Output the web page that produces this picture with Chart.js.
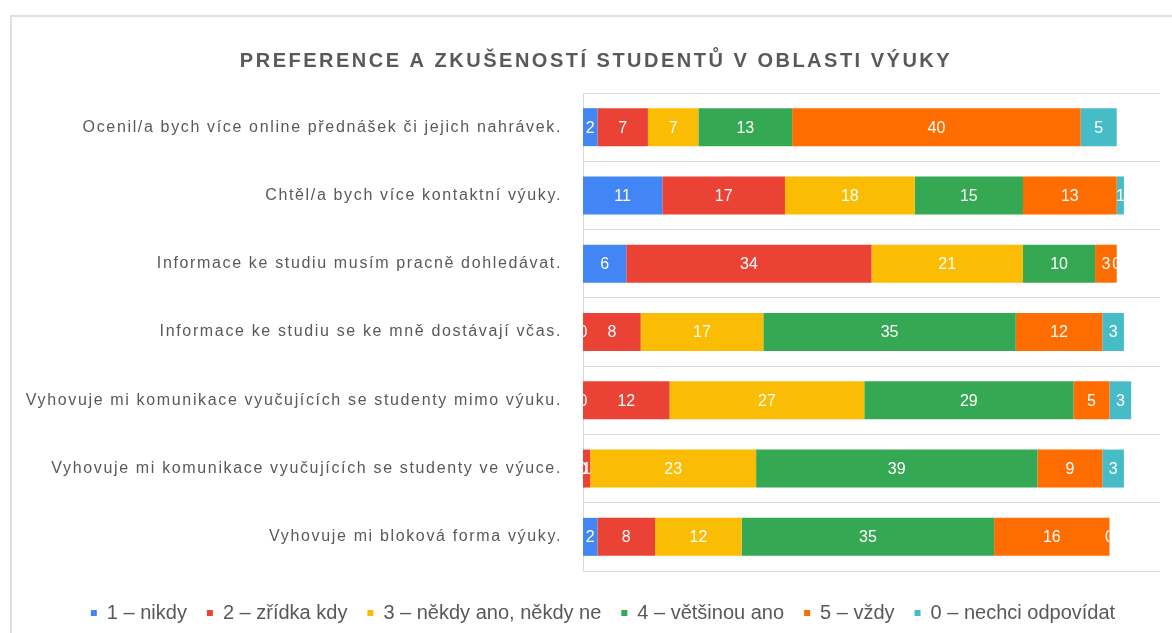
<!DOCTYPE html>
<html>
<head>
<meta charset="utf-8">
<script src="https://cdn.jsdelivr.net/npm/chart.js@4/dist/chart.umd.min.js"></script>
<style>
  html, body { margin: 0; padding: 0; background: #fff; width: 1172px; height: 633px; overflow: hidden; }
  #frame { position: absolute; left: 10px; top: 15px; width: 1200px; height: 700px; border-left: 2px solid #e0e0e0; border-top: 2px solid #e0e0e0; }
  #wrap { position: absolute; left: 10px; top: 15px; width: 1172px; height: 640px; }
</style>
</head>
<body>
<div id="frame"></div>
<div id="wrap"><canvas id="barchart"></canvas></div>
<script>
var chartTitle = "PREFERENCE A ZKUŠENOSTÍ STUDENTŮ V OBLASTI VÝUKY";

var categories = [
  "Ocenil/a bych více online přednášek či jejich nahrávek.",
  "Chtěl/a bych více kontaktní výuky.",
  "Informace ke studiu musím pracně dohledávat.",
  "Informace ke studiu se ke mně dostávají včas.",
  "Vyhovuje mi komunikace vyučujících se studenty mimo výuku.",
  "Vyhovuje mi komunikace vyučujících se studenty ve výuce.",
  "Vyhovuje mi bloková forma výuky."
];

var seriesNames = ["1 – nikdy", "2 – zřídka kdy", "3 – někdy ano, někdy ne", "4 – většinou ano", "5 – vždy", "0 – nechci odpovídat"];

var nikdy    = [2, 11, 6, 0, 0, 0, 2];
var zridka   = [7, 17, 34, 8, 12, 1, 8];
var nekdy    = [7, 18, 21, 17, 27, 23, 12];
var vetsinou = [13, 15, 10, 35, 29, 39, 35];
var vzdy     = [40, 13, 3, 12, 5, 9, 16];
var nechci   = [5, 1, 0, 3, 3, 3, 0];

var colors = ["#4285F4", "#EA4335", "#FBBC04", "#34A853", "#FF6D01", "#46BDC6"];

var FONT = '"Liberation Sans", Arial, sans-serif';
Chart.defaults.font.family = FONT;

// wrap a draw method: letter spacing and a small horizontal shift
function tweak(obj, fn, px, dx) {
  if (!obj || obj["_tw_" + fn]) return;
  var orig = obj[fn];
  obj[fn] = function () {
    var ctx = this.ctx;
    ctx.save();
    ctx.letterSpacing = px;
    ctx.translate(dx, 0);
    orig.apply(this, arguments);
    ctx.restore();
  };
  obj["_tw_" + fn] = true;
}

var tweaks = {
  id: "tweaks",
  afterLayout: function (chart) {
    tweak(chart.scales.y, "drawLabels", "1.65px", 0);
    tweak(chart.titleBlock, "draw", "2.5px", 11);
    tweak(chart.legend, "draw", "0px", 18);
  }
};

var valueLabels = {
  id: "valueLabels",
  afterDatasetsDraw: function (chart) {
    var ctx = chart.ctx, area = chart.chartArea;
    var ends = [];
    chart.data.datasets.forEach(function (ds, i) {
      chart.getDatasetMeta(i).data.forEach(function (bar, j) {
        ends[j] = Math.max(ends[j] || area.left, bar.x);
      });
    });
    ctx.save();
    ctx.font = "16px " + FONT;
    ctx.fillStyle = "#fff";
    ctx.textAlign = "center";
    ctx.textBaseline = "middle";
    chart.data.datasets.forEach(function (ds, i) {
      chart.getDatasetMeta(i).data.forEach(function (bar, j) {
        ctx.save();
        ctx.beginPath();
        ctx.rect(area.left, bar.y - 25, ends[j] - area.left, 50);
        ctx.clip();
        ctx.fillText(String(ds.data[j]), (bar.x + bar.base) / 2, bar.y + 1);
        ctx.restore();
      });
    });
    ctx.restore();
  }
};

var allData = [nikdy, zridka, nekdy, vetsinou, vzdy, nechci];
var datasets = allData.map(function (d, i) {
  return {
    label: seriesNames[i],
    data: d,
    backgroundColor: colors[i],
    borderWidth: 0,
    categoryPercentage: 1,
    barPercentage: 0.556
  };
});

var ctx = document.getElementById("barchart").getContext("2d");
var myChart = new Chart(ctx, {
  type: "bar",
  data: { labels: categories, datasets: datasets },
  plugins: [tweaks, valueLabels],
  options: {
    indexAxis: "y",
    responsive: true,
    maintainAspectRatio: false,
    animation: false,
    layout: { padding: { left: 0, right: 22, top: 0, bottom: 22 } },
    scales: {
      x: {
        stacked: true,
        min: 0,
        max: 80,
        ticks: { display: false },
        grid: { display: false },
        border: { display: false },
        afterFit: function (scale) { scale.height = 12; }
      },
      y: {
        stacked: true,
        grid: { color: "#d9d9d9", offset: true, drawTicks: false },
        border: { color: "#d9d9d9" },
        ticks: { color: "#595959", font: { size: 16 }, padding: 21 },
        afterFit: function (scale) { scale.width = 573; }
      }
    },
    plugins: {
      title: {
        display: true,
        text: chartTitle,
        color: "#595959",
        font: { size: 20, weight: "bold" },
        padding: { top: 34, bottom: 20 }
      },
      legend: {
        position: "bottom",
        labels: { color: "#595959", font: { size: 20 }, boxWidth: 6, boxHeight: 6, padding: 20 }
      },
      tooltip: { enabled: false }
    }
  }
});
</script>
</body>
</html>
